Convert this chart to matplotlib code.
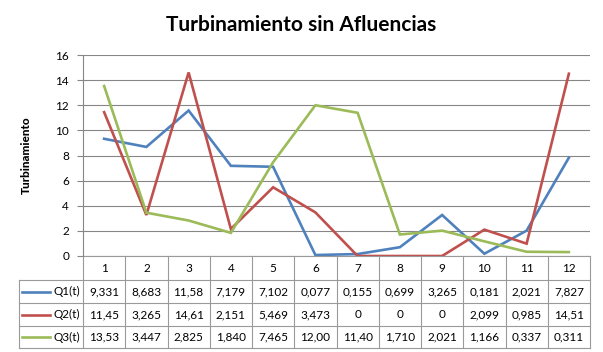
import matplotlib.pyplot as plt
import numpy as np

# datos
periodos = [1, 2, 3, 4, 5, 6, 7, 8, 9, 10, 11, 12]
q1 = [9.331, 8.683, 11.58, 7.179, 7.102, 0.077, 0.155, 0.699, 3.265, 0.181, 2.021, 7.827]
q2 = [11.45, 3.265, 14.61, 2.151, 5.469, 3.473, 0, 0, 0, 2.099, 0.985, 14.51]
q3 = [13.53, 3.447, 2.825, 1.840, 7.465, 12.00, 11.40, 1.710, 2.021, 1.166, 0.337, 0.311]
series = ["Q1(t)", "Q2(t)", "Q3(t)"]
colores = ["#4F81BD", "#C0504D", "#9BBB59"]

plt.rcParams["font.family"] = ["Lato", "DejaVu Sans"]


def fmt(v):
    # formato tipo Excel: 4 cifras, coma decimal
    if v == 0:
        return "0"
    s = f"{v:.2f}" if v >= 10 else f"{v:.3f}"
    return s.replace(".", ",")


W, H = 603, 352
fig = plt.figure(figsize=(W / 100, H / 100), dpi=100)
x0, x1, ytop, ybot = 83, 590, 55, 256
ax = fig.add_axes([x0 / W, 1 - ybot / H, (x1 - x0) / W, (ybot - ytop) / H])

for vals, c in zip([q1, q2, q3], colores):
    ax.plot(periodos, vals, color=c, linewidth=1.9, solid_joinstyle="miter")

ax.set_xlim(0.5, 12.5)
ax.set_ylim(0, 16)
ax.set_yticks(np.arange(0, 17, 2))
ax.set_xticks([])
ax.tick_params(axis="y", length=4, color="#868686", labelsize=8.5, pad=6)
ax.grid(axis="y", color="#868686", linewidth=0.8)
ax.set_axisbelow(True)
for s in ["top", "right", "bottom"]:
    ax.spines[s].set_visible(False)
ax.spines["left"].set_color("#868686")
ax.set_ylabel("Turbinamiento", fontsize=8.5, fontweight="black", labelpad=17)

fig.text(0.5, 1 - 25 / H, "Turbinamiento sin Afluencias", ha="center", va="center",
         fontsize=15, fontweight="bold")

# tabla de datos
alto = ybot - ytop
def fy(py):
    return (ybot - py) / alto
def fx(px):
    return (px - x0) / (x1 - x0)

filas = [256, 280, 303, 326, 348]
lc = "#9A9A9A"
kw = dict(transform=ax.transAxes, clip_on=False, color=lc, linewidth=0.8)
# líneas horizontales
ax.plot([0, 1], [fy(filas[0])] * 2, **kw)
for py in filas[1:]:
    ax.plot([fx(19), 1], [fy(py)] * 2, **kw)
# líneas verticales
ax.plot([fx(19), fx(19)], [fy(filas[1]), fy(filas[-1])], **kw)
for k in range(13):
    xa = k / 12
    ax.plot([xa, xa], [fy(filas[0]), fy(filas[-1])], **kw)

tr = ax.get_xaxis_transform()
for p in periodos:
    yc = (fy(filas[0]) + fy(filas[1])) / 2
    ax.text(p, yc, str(p), transform=tr, ha="center", va="center", fontsize=8.5, clip_on=False)

for r, (nombre, vals, c) in enumerate(zip(series, [q1, q2, q3], colores)):
    yc = (fy(filas[r + 1]) + fy(filas[r + 2])) / 2
    ax.plot([fx(22), fx(50)], [yc, yc], transform=ax.transAxes, clip_on=False,
            color=c, linewidth=1.9)
    ax.text(fx(80), yc, nombre, transform=ax.transAxes, ha="right", va="center",
            fontsize=8.5, clip_on=False)
    for p, v in zip(periodos, vals):
        ax.text(p, yc, fmt(v), transform=tr, ha="center", va="center", fontsize=8.5,
                clip_on=False)

fig.savefig("out.png", dpi=100)
